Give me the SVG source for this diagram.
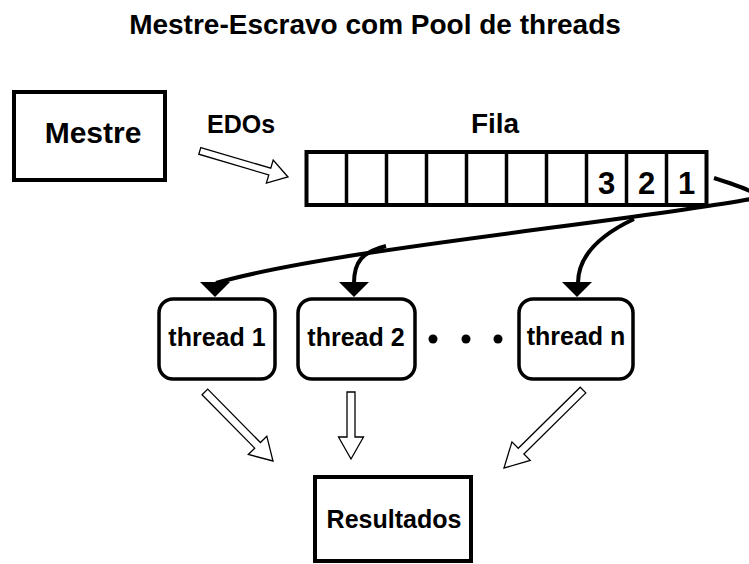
<svg xmlns="http://www.w3.org/2000/svg" width="749" height="564" viewBox="0 0 749 564">
<style>
text{font-family:"Liberation Sans",Arial,sans-serif;font-weight:bold;fill:#000;text-anchor:middle}
.box{fill:#fff;stroke:#000;stroke-width:4}
.th{fill:#fff;stroke:#000;stroke-width:3.5}
.cell{stroke:#000;stroke-width:3.5}
.curve{fill:none;stroke:#000;stroke-width:4}
.hollow{fill:#fff;stroke:#000;stroke-width:1.3;stroke-linejoin:miter}
</style>
<defs>
<path id="ah" d="M -15 0 L 15 0 L 0 15 Z" fill="#000"/>
</defs>
<text x="375" y="34" font-size="28">Mestre-Escravo com Pool de threads</text>

<g id="mestre">
<rect class="box" x="14" y="92" width="151" height="88"/>
<text x="93" y="143" font-size="30">Mestre</text>
</g>

<g id="edos-label">
<text x="241" y="133" font-size="25">EDOs</text>
</g>

<g id="fila">
<text x="495" y="133" font-size="28">Fila</text>
<rect class="box" x="306.5" y="152" width="400" height="53"/>
<line class="cell" x1="346.5" y1="152" x2="346.5" y2="205"/>
<line class="cell" x1="386.5" y1="152" x2="386.5" y2="205"/>
<line class="cell" x1="426.5" y1="152" x2="426.5" y2="205"/>
<line class="cell" x1="466.5" y1="152" x2="466.5" y2="205"/>
<line class="cell" x1="506.5" y1="152" x2="506.5" y2="205"/>
<line class="cell" x1="546.5" y1="152" x2="546.5" y2="205"/>
<line class="cell" x1="586.5" y1="152" x2="586.5" y2="205"/>
<line class="cell" x1="626.5" y1="152" x2="626.5" y2="205"/>
<line class="cell" x1="666.5" y1="152" x2="666.5" y2="205"/>
<text x="606.5" y="194" font-size="31">3</text>
<text x="646.5" y="194" font-size="31">2</text>
<text x="686.5" y="194" font-size="31">1</text>
</g>

<g id="thread1">
<rect class="th" x="159" y="299" width="116" height="80" rx="14"/>
<text x="217" y="346" font-size="25">thread 1</text>
</g>
<g id="thread2">
<rect class="th" x="298" y="299" width="117" height="80" rx="14"/>
<text x="356" y="346" font-size="25">thread 2</text>
</g>
<g id="dots">
<circle cx="433" cy="339" r="4.5"/>
<circle cx="466" cy="339" r="4.5"/>
<circle cx="498" cy="339" r="4.5"/>
</g>
<g id="threadn">
<rect class="th" x="519" y="299" width="114" height="80" rx="14"/>
<text x="576" y="345" font-size="25">thread n</text>
</g>

<g id="resultados">
<rect class="box" x="315" y="477" width="156" height="84"/>
<text x="394" y="528" font-size="25">Resultados</text>
</g>

<g id="connectors">
<path class="curve" d="M 714 178 C 752 190 768 197 745 200 C 610 224 330 250 216 283"/>
<path class="curve" d="M 386 246 C 362 252 354 262 354 283"/>
<path class="curve" d="M 634 219 C 600 235 578 255 578 283"/>
<use href="#ah" x="215" y="282"/>
<use href="#ah" x="354" y="282"/>
<use href="#ah" x="577" y="282"/>
<path class="hollow" transform="translate(288 177) rotate(16.5)" d="M -92 -3.5 L -19 -3.5 L -19 -12 L 0 0 L -19 12 L -19 3.5 L -92 3.5 Z"/>
<path class="hollow" transform="translate(273 461) rotate(45.4)" d="M -97 -4 L -22 -4 L -22 -13 L 0 0 L -22 13 L -22 4 L -97 4 Z"/>
<path class="hollow" transform="translate(351 459) rotate(90)" d="M -67 -4 L -22 -4 L -22 -12.5 L 0 0 L -22 12.5 L -22 4 L -67 4 Z"/>
<path class="hollow" transform="translate(504 468) rotate(135.4)" d="M -111 -4 L -24 -4 L -24 -13 L 0 0 L -24 13 L -24 4 L -111 4 Z"/>
</g>
</svg>
